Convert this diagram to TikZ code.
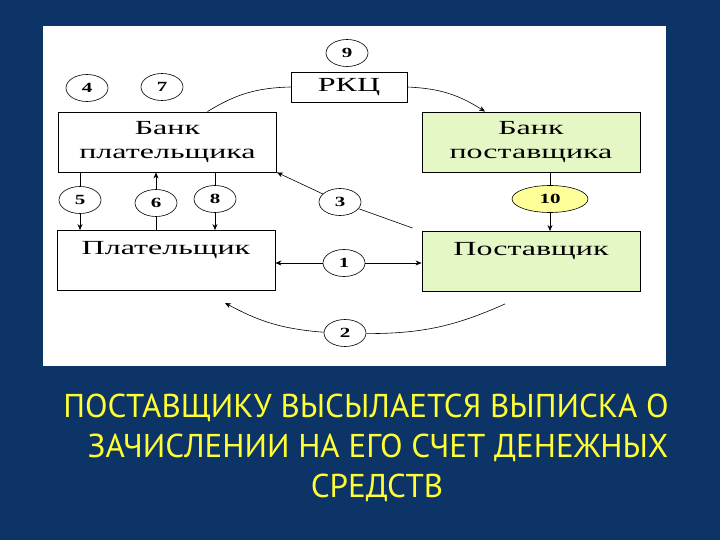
\documentclass[tikz,border=0pt]{standalone}
\usepackage{fontspec}
\setmainfont{Liberation Serif}
\newfontfamily\boxfont[FakeStretch=1.6]{Liberation Serif}
\newfontfamily\numfont[FakeStretch=1.5]{Liberation Serif}
\newfontfamily\capfont{PT Sans}
\usetikzlibrary{arrows.meta, positioning, shapes.geometric}
\definecolor{slideblue}{HTML}{0C3466}
\definecolor{boxgreen}{HTML}{E6F7C6}
\definecolor{ovalyellow}{HTML}{FFFF99}
\definecolor{capyellow}{HTML}{FFFF33}

\begin{document}
\begin{tikzpicture}[
  x=1pt, y=-1pt,
  box/.style={draw, line width=0.9pt, minimum width=218, minimum height=60,
    align=center, inner sep=0pt,
    font=\boxfont\fontsize{20}{24}\selectfont},
  greenbox/.style={box, fill=boxgreen},
  num/.style={ellipse, draw, line width=0.6pt, minimum width=42,
    minimum height=27, inner sep=0pt,
    font=\numfont\bfseries\fontsize{14}{14}\selectfont},
  link/.style={line width=0.6pt},
  arr/.style={link, -{Stealth[length=6pt, width=5pt]}},
  caption/.style={text=capyellow, align=center,
    font=\capfont\fontsize{33}{40}\selectfont},
]
  %% slide and white panel
  \fill[slideblue] (0,0) rectangle (720,540);
  \fill[white] (43,26) rectangle (666,366);

  %% Boxes
  \node[box] (bankp) at (167.5,142) {Банк\\плательщика};
  \node[box, minimum width=116, minimum height=30] (rkc) at (349,87) {РКЦ};
  \node[greenbox] (banks) at (531,142) {Банк\\поставщика};
  \node[box] (payer) at (166,260.5) {Плательщик\\[-6pt]\strut};
  \node[greenbox] (supplier) at (531,261.5) {Поставщик\\[-6pt]\strut};

  %% Numbered ovals
  \foreach \n/\x/\y in {4/87/88, 7/162/87, 9/347/53, 5/80/200, 6/156/203,
                        8/215/199, 3/340/202, 1/344/263, 2/345/333} {
    \node[num] (c\n) at (\x,\y) {\n};
  }
  \node[num, fill=ovalyellow, minimum width=76] (c10) at (550,199) {10};

  %% Bank of payer <-> payer
  \draw[link] (c5.north) -- (c5.north |- bankp.south);
  \draw[arr] (c5.south) -- (c5.south |- payer.north);
  \draw[link] (c6.south) -- (c6.south |- payer.north);
  \draw[arr] (c6.north) -- (c6.north |- bankp.south);
  \draw[link] (c8.north) -- (c8.north |- bankp.south);
  \draw[arr] (c8.south) -- (c8.south |- payer.north);

  %% Bank of supplier -> supplier
  \draw[link] (c10.north) -- (c10.north |- banks.south);
  \draw[arr] (c10.south) -- (c10.south |- supplier.north);

  %% Payer <-> supplier
  \draw[arr] (c1) -- (c1 -| payer.east);
  \draw[arr] (c1) -- (c1 -| supplier.west);
  \draw[link] (c3) -- ([shift={(-9,-3)}]supplier.north west);
  \draw[arr] (c3) -- (bankp.south east);

  %% Arcs through RKC and below
  \draw[link] ([xshift=40]bankp.north) to[bend left=15] (rkc.west);
  \draw[arr] (rkc.east) to[bend left=15] ([xshift=-46]banks.north);
  \draw[link] ([shift={(-26,12)}]supplier.south) to[bend left=12] (c2);
  \draw[arr] (c2) to[bend left=12] ([shift={(59,12)}]payer.south);

  %% Caption
  \node[caption] (note) at (366,448)
    {ПОСТАВЩИКУ ВЫСЫЛАЕТСЯ ВЫПИСКА О\\
     \hspace*{24pt}ЗАЧИСЛЕНИИ НА ЕГО СЧЕТ ДЕНЕЖНЫХ\\
     \hspace*{22pt}СРЕДСТВ};
\end{tikzpicture}
\end{document}
